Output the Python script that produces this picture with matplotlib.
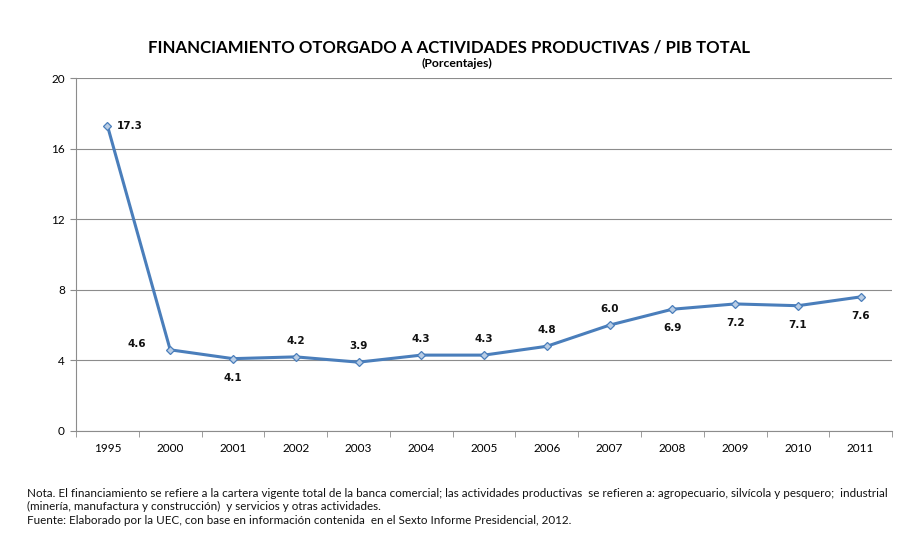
import numpy as np
import matplotlib.pyplot as plt

years = ['1995', '2000', '2001', '2002', '2003', '2004', '2005', '2006',
         '2007', '2008', '2009', '2010', '2011']
values = [17.3, 4.6, 4.1, 4.2, 3.9, 4.3, 4.3, 4.8, 6.0, 6.9, 7.2, 7.1, 7.6]
# where each data label sits relative to its point
label_pos = ['right', 'left', 'below', 'above', 'above', 'above', 'above',
             'above', 'above', 'below', 'below', 'below', 'below']

plt.rcParams['font.family'] = ['Lato', 'DejaVu Sans']

fig = plt.figure(figsize=(9.14, 5.42), dpi=100)
ax = fig.add_axes([0.0832, 0.2048, 0.8928, 0.6512])

x = np.arange(len(years))
ax.plot(x, values, color='#4a7ebb', linewidth=2.2, marker='D', markersize=4.5,
        markerfacecolor='#b9cde5', markeredgecolor='#4a7ebb', markeredgewidth=0.9,
        zorder=3)

offsets = {'right': (7, 0, 'left', 'center'),
           'left': (-17, 4, 'right', 'center'),
           'above': (0, 8, 'center', 'bottom'),
           'below': (0, -10, 'center', 'top')}
for xi, v, pos in zip(x, values, label_pos):
    dx, dy, ha, va = offsets[pos]
    ax.annotate(f'{v:.1f}', (xi, v), xytext=(dx, dy), textcoords='offset points',
                ha=ha, va=va, fontsize=7.5, fontweight='bold', color='#111111',
                family='DejaVu Sans')

ax.set_xlim(-0.5, len(years) - 0.5)
ax.set_ylim(0, 20)
ax.set_yticks([0, 4, 8, 12, 16, 20])
ax.yaxis.grid(True, color='#8c8c8c', linewidth=0.8)
ax.set_axisbelow(True)

ax.set_xticks(x)
ax.set_xticklabels(years)
ax.set_xticks(np.arange(-0.5, len(years)), minor=True)
ax.tick_params(axis='x', which='major', length=0, pad=9, labelsize=8.5)
ax.tick_params(axis='x', which='minor', length=4, color='#8c8c8c')
ax.tick_params(axis='y', length=4, color='#8c8c8c', labelsize=8.5, pad=4)

for side in ['top', 'right']:
    ax.spines[side].set_visible(False)
for side in ['left', 'bottom']:
    ax.spines[side].set_color('#8c8c8c')
    ax.spines[side].set_linewidth(0.8)

fig.text(0.491, 0.913, 'FINANCIAMIENTO OTORGADO A ACTIVIDADES PRODUCTIVAS / PIB TOTAL',
         ha='center', va='center', fontsize=12.1, fontweight='bold')
fig.text(0.500, 0.883, '(Porcentajes)', ha='center', va='center',
         fontsize=8.8, fontweight='bold')

notes = ['Nota. El financiamiento se refiere a la cartera vigente total de la banca comercial; '
         'las actividades productivas  se refieren a: agropecuario, silvícola y pesquero;  industrial',
         '(minería, manufactura y construcción)  y servicios y otras actividades.',
         'Fuente: Elaborado por la UEC, con base en información contenida  en el Sexto Informe Presidencial, 2012.']
for i, line in enumerate(notes):
    fig.text(0.029, 0.090 - i * 0.025, line, ha='left', va='center', fontsize=8.4,
             color='#111111', family=['Liberation Sans Narrow', 'Lato'])

fig.savefig('out.png', dpi=100)
